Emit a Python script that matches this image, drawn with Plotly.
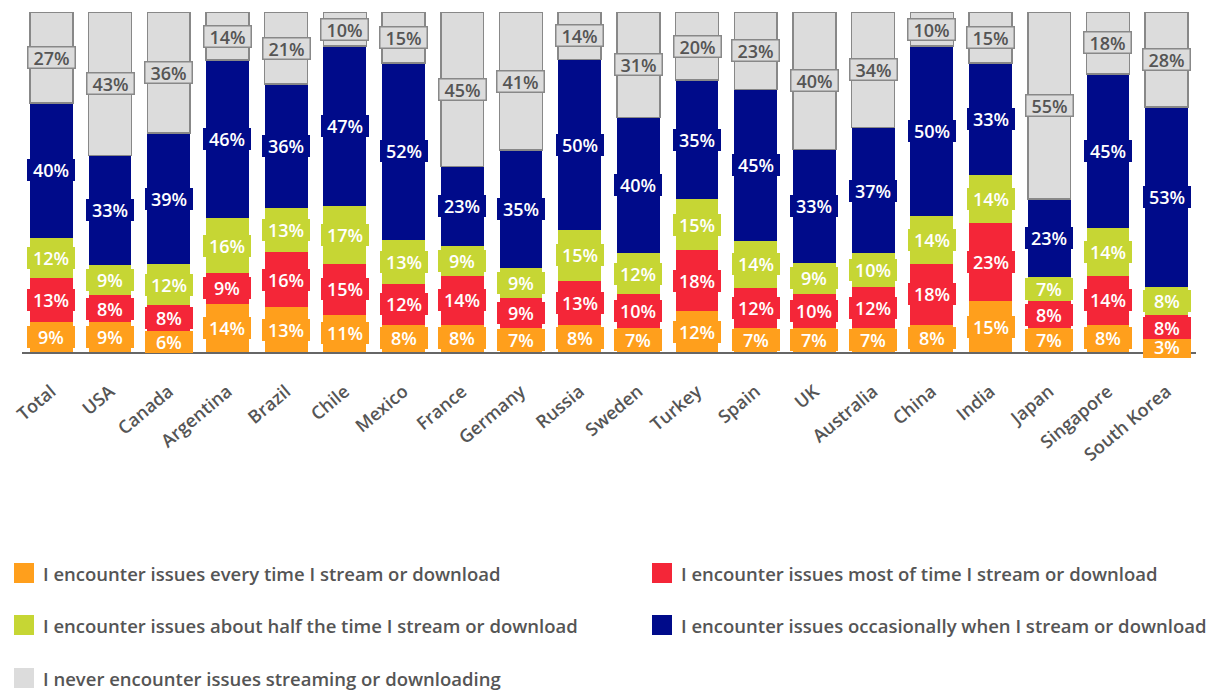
import plotly.graph_objects as go

categories = ["Total", "USA", "Canada", "Argentina", "Brazil", "Chile", "Mexico",
              "France", "Germany", "Russia", "Sweden", "Turkey", "Spain", "UK",
              "Australia", "China", "India", "Japan", "Singapore", "South Korea"]

every_time = [9, 9, 6, 14, 13, 11, 8, 8, 7, 8, 7, 12, 7, 7, 7, 8, 15, 7, 8, 3]
most_time = [13, 8, 8, 9, 16, 15, 12, 14, 9, 13, 10, 18, 12, 10, 12, 18, 23, 8, 14, 8]
half_time = [12, 9, 12, 16, 13, 17, 13, 9, 9, 15, 12, 15, 14, 9, 10, 14, 14, 7, 14, 8]
occasionally = [40, 33, 39, 46, 36, 47, 52, 23, 35, 50, 40, 35, 45, 33, 37, 50, 33, 23, 45, 53]
never = [27, 43, 36, 14, 21, 10, 15, 45, 41, 14, 31, 20, 23, 40, 34, 10, 15, 55, 18, 28]

series_names = [
    "I encounter issues every time I stream or download",
    "I encounter issues most of time I stream or download",
    "I encounter issues about half the time I stream or download",
    "I encounter issues occasionally when I stream or download",
    "I never encounter issues streaming or downloading",
]
series_values = [every_time, most_time, half_time, occasionally, never]
colors = ["#FF9F1C", "#F42638", "#C6D634", "#000B8A", "#DCDCDC"]
label_text_colors = ["white", "white", "white", "white", "#555555"]

FONT = "Open Sans"

fig = go.Figure()
for name, vals, col in zip(series_names, series_values, colors):
    is_gray = col == "#DCDCDC"
    fig.add_trace(go.Bar(
        x=categories, y=vals, name=name,
        marker=dict(color=col,
                    line=dict(color="#888888" if is_gray else col,
                              width=1.5 if is_gray else 0)),
        hoverinfo="x+y+name",
    ))

# value boxes centred on each (normalised) segment
annotations = []
for i, cat in enumerate(categories):
    total = sum(s[i] for s in series_values)
    base = 0.0
    for k, vals in enumerate(series_values):
        v = vals[i]
        h = v * 100.0 / total
        centre = base + h / 2
        base += h
        gray = k == 4
        annotations.append(dict(
            x=cat, y=centre, xref="x", yref="y",
            text=f"{v}%", showarrow=False,
            font=dict(family=FONT, size=18, color=label_text_colors[k], weight=600),
            bgcolor=colors[k],
            bordercolor="#888888" if gray else colors[k],
            borderwidth=1.5 if gray else 0,
            borderpad=1 if gray else 2,
            width=44, height=18,
        ))

# legend drawn as swatches and captions below the chart
legend_pos = [
    (14, 573), (652, 573),
    (14, 625), (652, 625),
    (14, 678),
]
shapes = []
W, H = 1217, 691
for k, (px, py) in enumerate(legend_pos):
    shapes.append(dict(
        type="rect", xref="paper", yref="paper",
        x0=(px - 22) / (W - 43), x1=(px - 22 + 20) / (W - 43),
        y0=(352 - (py + 10)) / 340, y1=(352 - (py - 10)) / 340,
        fillcolor=colors[k], line=dict(width=0), layer="above",
    ))
    annotations.append(dict(
        x=(px - 22 + 27) / (W - 43), y=(352 - py) / 340,
        xref="paper", yref="paper", xanchor="left", yanchor="middle",
        text=series_names[k], showarrow=False,
        font=dict(family=FONT, size=18.5, color="#555555", weight=600),
    ))

fig.update_layout(
    width=W, height=H,
    barmode="stack", barnorm="percent", bargap=0.27,
    plot_bgcolor="white", paper_bgcolor="white",
    margin=dict(l=22, r=21, t=12, b=339),
    showlegend=False,
    annotations=annotations, shapes=shapes,
    xaxis=dict(
        tickangle=-40, showline=True, linecolor="#666666", linewidth=2,
        showgrid=False, ticks="", ticklabelstandoff=20,
        tickfont=dict(family=FONT, size=18, color="#555555", weight=600),
    ),
    yaxis=dict(range=[0, 100], visible=False, showgrid=False),
)

fig.write_html("out.html")
